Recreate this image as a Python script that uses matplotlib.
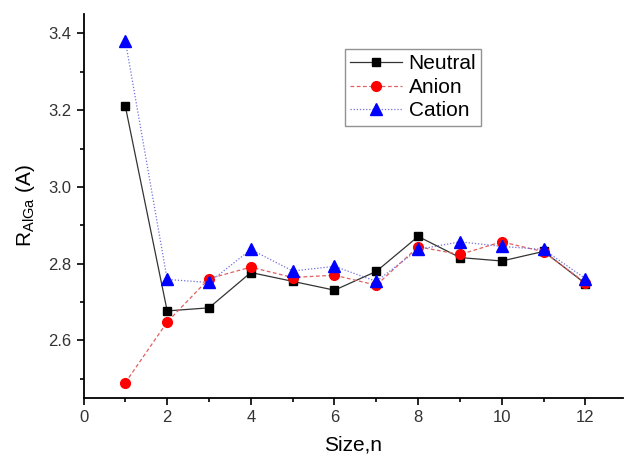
import numpy as np
import matplotlib
matplotlib.use("Agg")
import matplotlib.pyplot as plt
from matplotlib.ticker import MultipleLocator

plt.rcParams['font.family'] = ['Liberation Sans', 'DejaVu Sans']

size_n = [1, 2, 3, 4, 5, 6, 7, 8, 9, 10, 11, 12]
neutral = [3.21, 2.677, 2.685, 2.777, 2.754, 2.731, 2.780, 2.871, 2.816, 2.807, 2.832, 2.748]
anion = [2.49, 2.648, 2.761, 2.791, 2.764, 2.770, 2.744, 2.844, 2.824, 2.857, 2.831, 2.750]
cation = [3.381, 2.759, 2.751, 2.837, 2.781, 2.793, 2.754, 2.837, 2.857, 2.845, 2.837, 2.761]

fig = plt.figure(figsize=(6.26, 4.57), dpi=100)
ax = fig.add_axes([0.1334, 0.129, 0.862, 0.84])

ax.plot(size_n, neutral, color="#333333", lw=0.9, ls="-", marker="s", ms=6,
        mfc="black", mec="black", label="Neutral")
ax.plot(size_n, anion, color="#e06060", lw=0.9, ls=(0, (3, 2)), marker="o", ms=7,
        mfc="red", mec="red", label="Anion")
ax.plot(size_n, cation, color="#7070e0", lw=0.9, ls=(0, (1, 1.5)), marker="^", ms=8,
        mfc="blue", mec="blue", label="Cation")

ax.set_xlim(0, 12.9)
ax.set_ylim(2.45, 3.45)
ax.xaxis.set_major_locator(MultipleLocator(2))
ax.xaxis.set_minor_locator(MultipleLocator(1))
ax.yaxis.set_major_locator(MultipleLocator(0.2))
ax.yaxis.set_minor_locator(MultipleLocator(0.1))
ax.tick_params(which="major", direction="out", length=5, width=1.2, labelsize=12, labelcolor="#333333")
ax.tick_params(which="minor", direction="out", length=3, width=1.2)

for s in ["top", "right"]:
    ax.spines[s].set_visible(False)
for s in ["left", "bottom"]:
    ax.spines[s].set_linewidth(1.3)

ax.set_xlabel("Size,n", fontsize=15, labelpad=8)
ax.set_ylabel(r"R$_\mathregular{AlGa}$ (A)", fontsize=15, labelpad=8)

leg = ax.legend(loc="upper left", bbox_to_anchor=(345/626, 1-49/457), bbox_transform=fig.transFigure,
                fontsize=15, fancybox=False, edgecolor="#777777", handlelength=2.5,
                borderpad=0.25, labelspacing=0.22, handletextpad=0.3, borderaxespad=0)
leg.get_frame().set_linewidth(1.0)

plt.savefig("out.png", dpi=100)
